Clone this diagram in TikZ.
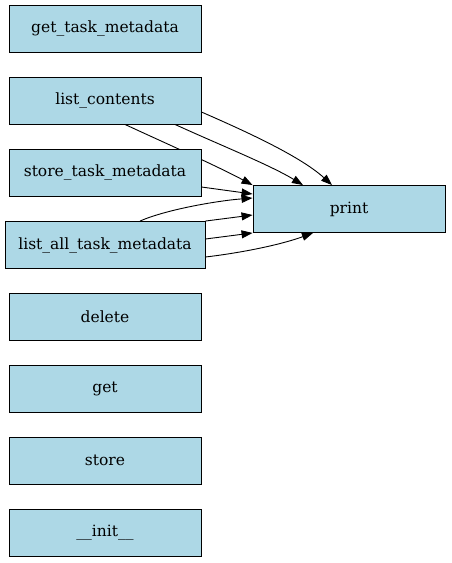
\documentclass[tikz,border=0pt]{standalone}
\usepackage{fontspec}
\setmainfont{DejaVu Serif}
\usetikzlibrary{arrows.meta}
\pgfdeclarelayer{background}
\pgfsetlayers{background,main}

\begin{document}
\begin{tikzpicture}[x=1pt,y=-1pt,
  fn/.style={draw,fill={rgb,255:red,173;green,216;blue,230},line width=0.9pt,
    minimum width=192pt,minimum height=47pt,inner sep=0pt,
    font=\fontsize{15.5}{18}\selectfont},
  call/.style={line width=0.9pt,-{Triangle[length=11pt,width=8pt]}}]

\useasboundingbox (0,0) rectangle (451,563);

\node[fn] (gtm) at (105,28.5) {get\_task\_metadata};

\node[fn] (lc) at (105,100.5) {list\_contents};

\node[fn] (stm) at (105,172.5) {store\_task\_metadata};

\node[fn,minimum width=200pt] (latm) at (105,245) {list\_all\_task\_metadata};

\node[fn] (del) at (105,316.5) {delete};

\node[fn] (get) at (105,388.5) {get};

\node[fn] (store) at (105,460.5) {store};

\node[fn] (init) at (105,532.5) {\_\_init\_\_};

\node[fn] (print) at (349,209) {print};

\begin{pgfonlayer}{background}
\draw[call] ([yshift=-11.5pt]lc.east) .. controls (245,131) and (300,156) .. ([xshift=-17pt]print.north);
\draw[call] ([xshift=70pt]lc.south) .. controls (220,145) and (270,165) .. ([xshift=-46pt]print.north);
\draw[call] ([xshift=20pt]lc.south) .. controls (165,143) and (215,165) .. (print.north west);
\draw[call] ([yshift=-14.5pt]stm.east) -- ([yshift=15pt]print.west);
\draw[call] ([xshift=35pt]latm.north) .. controls (165,210) and (215,201) .. ([yshift=11pt]print.west);
\draw[call] (latm.north east) -- ([yshift=-6pt]print.west);
\draw[call] ([yshift=6pt]latm.east) -- (print.south west);
\draw[call] ([yshift=-12pt]latm.east) .. controls (240,253) and (280,245) .. ([xshift=-36pt]print.south);
\end{pgfonlayer}

\end{tikzpicture}
\end{document}
